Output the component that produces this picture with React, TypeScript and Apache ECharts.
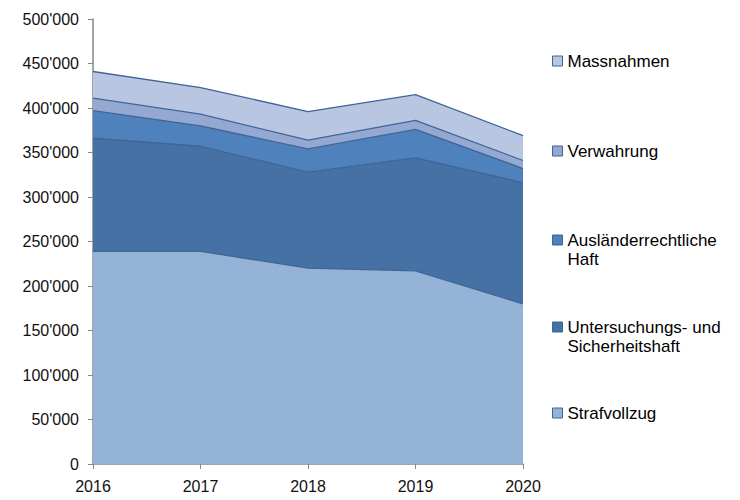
import React, { useEffect, useRef } from "react";
import * as echarts from "echarts";

const years = ["2016", "2017", "2018", "2019", "2020"];
const strafvollzug = [239000, 239000, 220000, 217000, 180000];
const untersuchung = [127000, 118000, 108000, 127000, 136000];
const auslaender = [31000, 23000, 26000, 32000, 16000];
const verwahrung = [14000, 13000, 10000, 10000, 9000];
const massnahmen = [30000, 30000, 32000, 29000, 28000];

const names = [
  "Strafvollzug",
  "Untersuchungs- und Sicherheitshaft",
  "Ausländerrechtliche Haft",
  "Verwahrung",
  "Massnahmen",
];
const legendLabels: Record<string, string> = {
  Strafvollzug: "Strafvollzug",
  "Untersuchungs- und Sicherheitshaft": "\nUntersuchungs- und\nSicherheitshaft",
  "Ausländerrechtliche Haft": "\nAusländerrechtliche\nHaft",
  Verwahrung: "Verwahrung",
  Massnahmen: "Massnahmen",
};
const colors = ["#95B3D7", "#4571A5", "#4F81BD", "#94A8D2", "#B9C6E1"];
const lineColor = "#3E6596";

export default function App() {
  const ref = useRef<HTMLDivElement>(null);
  useEffect(() => {
    if (!ref.current) return;
    const chart = echarts.init(ref.current, undefined, { renderer: "svg" });
    const dataSets = [strafvollzug, untersuchung, auslaender, verwahrung, massnahmen];
    const fmt = (v: number) => String(v).replace(/\B(?=(\d{3})+(?!\d))/g, "'");
    const legendCenters: Record<string, number> = {
      Massnahmen: 61,
      Verwahrung: 151,
      "Ausländerrechtliche Haft": 240,
      "Untersuchungs- und Sicherheitshaft": 327,
      Strafvollzug: 413,
    };
    const lh = 19;
    const legends = names.map((n) => {
      const multi = legendLabels[n].includes("\n");
      return {
        data: [n],
        left: 552,
        top: multi ? legendCenters[n] - lh * 1.5 : legendCenters[n] - lh / 2,
        orient: "vertical",
        itemWidth: 10,
        itemHeight: 10,
        itemGap: 0,
        padding: 0,
        icon: "rect",
        itemStyle: { borderColor: lineColor, borderWidth: 1 },
        formatter: (name: string) => legendLabels[name],
        textStyle: {
          fontFamily: "Liberation Sans, Arial, sans-serif",
          fontSize: 17,
          color: "#000",
          lineHeight: lh,
        },
        selectedMode: false,
      };
    });
    chart.setOption({
      animation: false,
      grid: { left: 93, right: 217, top: 19, bottom: 36 },
      legend: legends,
      xAxis: {
        type: "category",
        data: years,
        boundaryGap: false,
        axisLine: { lineStyle: { color: "#868686", width: 1.5 } },
        axisTick: { lineStyle: { color: "#868686" }, length: 5 },
        axisLabel: {
          fontFamily: "Liberation Sans, Arial, sans-serif",
          fontSize: 16,
          color: "#111",
          margin: 14,
        },
      },
      yAxis: {
        type: "value",
        min: 0,
        max: 500000,
        interval: 50000,
        splitLine: { show: false },
        axisLine: { show: true, lineStyle: { color: "#868686", width: 1.5 } },
        axisTick: { show: true, lineStyle: { color: "#868686" }, length: 5 },
        axisLabel: {
          fontFamily: "Liberation Sans, Arial, sans-serif",
          fontSize: 16,
          color: "#111",
          margin: 14,
          formatter: (v: number) => fmt(v),
        },
      },
      series: names.map((n, i) => ({
        name: n,
        type: "line",
        stack: "total",
        data: dataSets[i],
        symbol: "none",
        color: colors[i],
        lineStyle: { color: lineColor, width: 1.3 },
        areaStyle: { color: colors[i], opacity: 1 },
        z: 2,
      })),
    });
    return () => chart.dispose();
  }, []);
  return (
    <div
      ref={ref}
      style={{ position: "fixed", left: 0, top: 0, width: 740, height: 500, background: "#fff" }}
    />
  );
}
